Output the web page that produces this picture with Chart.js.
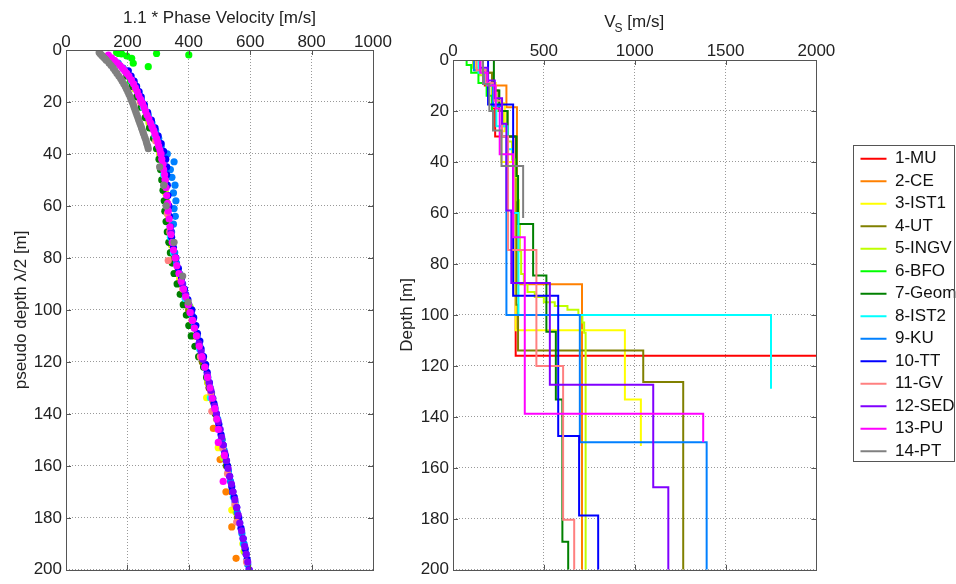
<!DOCTYPE html>
<html><head><meta charset="utf-8">
<script src="https://cdn.jsdelivr.net/npm/chart.js@4.4.1/dist/chart.umd.min.js"></script>
<style>
html,body{margin:0;padding:0;background:#fff;width:956px;height:584px;overflow:hidden}
#c1{position:absolute;left:0;top:0}
#c2{position:absolute;left:380px;top:0}
</style></head><body>
<canvas id="c1" width="400" height="584"></canvas>
<canvas id="c2" width="576" height="584"></canvas>
<script>
// ---------- series ----------
const seriesNames = ['1-MU','2-CE','3-IST1','4-UT','5-INGV','6-BFO','7-Geom','8-IST2','9-KU','10-TT','11-GV','12-SED','13-PU','14-PT'];
const seriesColors = ['#ff0000','#ff8000','#ffff00','#808000','#bfff00','#00ff00','#008000','#00ffff','#0080ff','#0000ff','#ff8080','#8000ff','#ff00ff','#808080'];

// ---------- tick labels ----------
const phaseTicks = [0,200,400,600,800,1000];
const vsTicks = [0,500,1000,1500,2000];
const depthTicks = [0,20,40,60,80,100,120,140,160,180,200];

// ---------- left panel: pseudo depth [m] / 1.1*phase velocity [m/s] ----------
const pdMU = [25,50,90,130,170];
const pvMU = [262,320,376,466,540];
const pdCE = [30,45,60,70,75,85,100,110,120,128,135,145.6,157.6,170,183.5,195.6];
const pvCE = [283,316,328,336,344,365,400,422,446,462,478,480,502,521,540,554];
const pdIST1 = [12,25,45,65,88,105,133.8,153,177,190];
const pvIST1 = [214,262,314,334,370,413,458,496,540,576];
const pdUT = [18,38,58,80,100,120,140,160,180];
const pvUT = [236,300,326,352,400,444,486,522,558];
const pdINGV = [15,28,40,55,75,98.7,110,118.5,128,142,156.8,178,193];
const pvINGV = [224,270,305,324,344,404,420,447,462,490,512,554,580];
const pdBFO = [1.0,1.3,1.5,2.3,3.2,5.1,6.4,1.3,1.9,12,30];
const pvBFO = [165,172,181,198,214,219,268,295,400,210,276];
const pdGeom = [10,14,18,22,26,30,34,38,42,46,50,54,58,62,66,70,74,78,82,86,90,94,98,102,106,110,114,118,122,126,130,140,150,160,170,180];
const pvGeom = [198,215,230,245,258,272,285,295,303,308,312,316,320,322,326,330,335,340,346,352,362,372,382,392,400,408,420,432,448,458,467,488,508,525,543,562];
const pdIST2 = [12,22,33,48,72,78,95.6,115,133.8,150,172,190];
const pvIST2 = [215,252,290,318,340,350,388,435,470,505,545,578];
const pdKU = [5,7,9,11,13,15,17,19,22,25,28,31,34,37,40,43,46,49,52,55,58,61,64,67,70,74,78,82,86,90,94,98,102,106,110,114,118,122,126,130,134,138,142,146,150,154,158,162,166,170,174,178,182,186,190,194,198];
const pvKU = [170,186,200,212,222,230,238,245,256,268,280,292,302,310,330,352,340,345,355,350,358,352,356,350,344,348,354,360,370,380,390,400,410,418,427,436,445,453,462,470,478,486,494,501,508,515,522,529,536,543,551,558,566,573,580,587,592];
const pdTT = [8,10,12,14,16,18,21,24,27,30,33,36,39,42,45,48,52,56,60,64,68,72,76,80,84,88,92,96,100,103,106,109,112,115,118,121,124,128,132,136,140,144,148,152,156,160,164,168,172,176,180,184,188,192,196,200];
const pvTT = [203,212,222,230,238,245,255,266,278,290,300,310,318,325,328,328,330,332,335,337,340,344,350,358,366,376,386,397,410,416,423,428,436,440,448,455,460,467,474,482,490,498,505,512,519,526,533,540,548,556,563,570,577,584,590,596];
const pdGV = [20,35,52,63,70,81,92,104,118,132,139,153,163,175,181.6,197];
const pvGV = [242,292,320,330,338,333,380,410,438,472,475,510,526,550,556,588];
const pdSED = [20,30,40,50,60,70,80,90,94,98,101,104,107,110,113,116,119,122,125,128,131,134,137,140,143,146,149,152,155,158,161,164,167,170,173,176,179,182,185,188,191,194,197,200];
const pvSED = [247,283,310,323,332,342,357,379,389,399,407,413,419,426,433,440,446,453,460,466,472,478,484,490,496,502,507,512,517,523,528,533,539,544,550,556,561,566,572,577,582,587,592,597];
const pdPU = [2,3,4,5,6,7,8,9,10,11.5,13,14.5,16,17.5,19,20.5,22,23.5,25,26.5,28,29.5,31,32.5,34,35.5,37,38.5,40,42,44,46,48,50,53,56,59,62,65,68,71,74,77,80,83,86,89,92,95,98,101,104,107,110,114,118,122,126,130,134,138,142,146,151,156,166];
const pvPU = [138,148,158,167,176,184,191,198,205,213,220,226,232,237,243,249,254,259,264,270,275,280,286,290,295,299,302,306,309,312,316,318,321,323,326,328,331,333,336,339,342,346,350,356,361,368,375,383,390,398,404,412,418,425,434,443,452,461,469,476,485,491,496,496,516,512];
const pdPT = [1,1.5,2,2.5,3,3.5,4,5,6,7,8,9,10,11,12,13,14,15,16,17,18,19,20,21,22,23,24,25,26,27,28,29,30,31,32,33,34,35,36,37,38,45,52,60,74,87,97];
const pvPT = [108,112,116,120,124,128,132,140,147,154,160,166,172,178,183,188,193,197,201,205,209,212,216,219,222,225,228,231,234,237,240,243,246,249,252,255,258,261,263,266,268,305,318,326,352,380,398];

// ---------- right panel: layer bottom depth [m] / Vs [m/s] ----------
const hMU = [4,10,19,30,116,200];
const vMU = [120,175,215,232,345,2600];
const hCE = [5,10,18.5,88,200];
const vCE = [150,215,294,352,710];
const hIST1 = [4,9,17,28,40,106,133.2,151.4];
const vIST1 = [125,180,235,285,266,345,946,1034];
const hUT = [5,12,20,30,96,114,126.3,200];
const vUT = [165,215,250,300,349,358,1047,1267];
const hINGV = [3,6,10,15,20,26,32,39,46,55,65,75,84,88,91,93,95,96.5,98,100,103,107,200];
const vINGV = [110,150,185,215,245,275,300,325,345,355,362,368,375,390,410,450,500,560,630,690,712,722,730];
const hBFO = [2,5,9,14,20];
const vBFO = [75,100,140,185,215];
const hGeom = [12,20,30,45.5,64.3,84.5,106.6,133.2,189,200];
const vGeom = [225,255,300,349,358,441,514,566,602,634];
const hIST2 = [5,10,16,26,35,60,100,129];
const vIST2 = [140,190,225,239,300,330,360,1750];
const hKU = [4,9,18,30,100,150,200];
const vKU = [115,170,220,270,294,698,1396];
const hTT = [17.5,92.5,147.5,178.7,200];
const vTT = [193,331,579,694,799];
const hGV = [4,9,16,30,74.5,120,180.4,200];
const vGV = [130,180,228,270,303,459,606,667];
const hSED = [3,8,15,25,59,87.5,127.4,167.6,200];
const vSED = [150,190,230,270,294,321,533,1102,1185];
const hPU = [5,10,19,37,69.5,138.8,150];
const vPU = [150,190,235,257,331,395,1377];
const hPT = [9.4,20,27.7,41.6,62];
const vPT = [165,200,220,267,386];

const phaseDepth = [pdMU,pdCE,pdIST1,pdUT,pdINGV,pdBFO,pdGeom,pdIST2,pdKU,pdTT,pdGV,pdSED,pdPU,pdPT];
const phaseVel   = [pvMU,pvCE,pvIST1,pvUT,pvINGV,pvBFO,pvGeom,pvIST2,pvKU,pvTT,pvGV,pvSED,pvPU,pvPT];
const layerBottom = [hMU,hCE,hIST1,hUT,hINGV,hBFO,hGeom,hIST2,hKU,hTT,hGV,hSED,hPU,hPT];
const layerVs     = [vMU,vCE,vIST1,vUT,vINGV,vBFO,vGeom,vIST2,vKU,vTT,vGV,vSED,vPU,vPT];

// ---------- styling ----------
const FONT = '"Liberation Sans", Arial, Helvetica, sans-serif';
const FS = 17;
Chart.defaults.font.family = FONT;
Chart.defaults.font.size = FS;
Chart.defaults.color = '#222';
const gridColor = '#999';
const boxColor = '#555';

function stepPoints(bottoms, vs) {
  const pts = []; let top = 0;
  for (let i = 0; i < vs.length; i++) {
    pts.push({x: vs[i], y: top});
    pts.push({x: vs[i], y: bottoms[i]});
    top = bottoms[i];
  }
  return pts;
}
function fixedTicks(arr) { return s => { s.ticks = arr.map(v => ({value: v})); }; }
const plainLabel = v => String(v);

const framePlugin = {
  id: 'frame',
  afterDatasetsDraw(chart) {
    const {ctx, chartArea: a, scales} = chart;
    const xs = scales.x, ys = scales.y;
    ctx.save();
    ctx.strokeStyle = boxColor; ctx.lineWidth = 1;
    ctx.beginPath();
    xs.ticks.forEach(t => { const p = Math.round(xs.getPixelForValue(t.value)) + 0.5;
      ctx.moveTo(p, a.top); ctx.lineTo(p, a.top + 5); ctx.moveTo(p, a.bottom); ctx.lineTo(p, a.bottom - 5); });
    ys.ticks.forEach(t => { const p = Math.round(ys.getPixelForValue(t.value)) + 0.5;
      ctx.moveTo(a.left, p); ctx.lineTo(a.left + 5, p); ctx.moveTo(a.right, p); ctx.lineTo(a.right - 5, p); });
    ctx.stroke();
    ctx.strokeRect(Math.round(a.left) + 0.5, Math.round(a.top) + 0.5, Math.round(a.right - a.left), Math.round(a.bottom - a.top));
    ctx.restore();
  }
};

function depthAxis(width, titleText, titlePad) {
  return {
    type: 'linear', reverse: true, min: 0, max: 200,
    afterBuildTicks: fixedTicks(depthTicks),
    afterFit: s => { s.width = width; },
    ticks: {padding: 4, color: '#222', callback: plainLabel},
    grid: {color: gridColor, drawTicks: false, lineWidth: 1},
    border: {display: false, dash: [1, 2]},
    title: {display: true, text: titleText, color: '#222', padding: {top: titlePad, bottom: 0}}
  };
}

// ---------- left chart ----------
const leftDatasets = [];
for (let i = seriesNames.length - 1; i >= 0; i--) {
  leftDatasets.push({
    label: seriesNames[i],
    data: phaseDepth[i].map((d, k) => ({x: phaseVel[i][k], y: d})),
    backgroundColor: seriesColors[i], borderColor: seriesColors[i],
    pointRadius: 3.6, pointBorderWidth: 0, showLine: false
  });
}
new Chart(document.getElementById('c1'), {
  type: 'scatter',
  data: {datasets: leftDatasets},
  options: {
    responsive: false, animation: false, devicePixelRatio: 1,
    layout: {padding: {left: 0, right: 27, top: 0, bottom: 11}},
    plugins: {legend: {display: false}, tooltip: {enabled: false}},
    scales: {
      x: {
        type: 'linear', position: 'top', min: 0, max: 1000,
        afterBuildTicks: fixedTicks(phaseTicks),
        afterFit: s => { s.height = 50; },
        ticks: {padding: -3, maxRotation: 0, color: '#222', callback: plainLabel},
        grid: {color: gridColor, drawTicks: false, lineWidth: 1},
        border: {display: false, dash: [1, 2]},
        title: {display: true, text: '1.1 * Phase Velocity [m/s]', color: '#222', padding: {top: 8, bottom: 0}}
      },
      y: depthAxis(66, 'pseudo depth λ/2 [m]', 11)
    }
  },
  plugins: [framePlugin]
});

// ---------- right chart ----------
const rightDatasets = [];
for (let i = seriesNames.length - 1; i >= 0; i--) {
  rightDatasets.push({
    label: seriesNames[i],
    data: stepPoints(layerBottom[i], layerVs[i]),
    borderColor: seriesColors[i], backgroundColor: seriesColors[i],
    borderWidth: 2, pointRadius: 0, showLine: true, fill: false, tension: 0, yAxisID: 'y'
  });
}
const legendBoxPlugin = {
  id: 'legendBox',
  afterDraw(chart) {
    const lg = chart.legend; if (!lg || !lg.legendHitBoxes.length) return;
    const hb = lg.legendHitBoxes;
    const tops = hb.map(h => h.top);
    const top = Math.min(...tops), bot = Math.max(...tops);
    const ctx = chart.ctx;
    ctx.save(); ctx.strokeStyle = boxColor; ctx.lineWidth = 1;
    const l = Math.round(lg.left) - 1.5, t = Math.round(top + FS / 2 - 14) + 0.5;
    const r = chart.width - 1.5, b = Math.round(bot + FS / 2 + 10) + 0.5;
    ctx.strokeRect(l, t, r - l, b - t);
    ctx.restore();
  }
};
const vsTitlePlugin = {
  id: 'vsTitle',
  afterDraw(chart) {
    const {ctx, chartArea: a} = chart;
    ctx.save(); ctx.fillStyle = '#222'; ctx.textBaseline = 'alphabetic'; ctx.textAlign = 'left';
    const big = FS + 'px ' + FONT, small = '12px ' + FONT;
    ctx.font = big; const wV = ctx.measureText('V').width; const wR = ctx.measureText(' [m/s]').width;
    ctx.font = small; const wS = ctx.measureText('S').width;
    let x = (a.left + a.right) / 2 - (wV + wS + wR) / 2; const base = 27;
    ctx.font = big; ctx.fillText('V', x, base); x += wV - 1;
    ctx.font = small; ctx.fillText('S', x, base + 5); x += wS;
    ctx.font = big; ctx.fillText(' [m/s]', x, base);
    ctx.restore();
  }
};
new Chart(document.getElementById('c2'), {
  type: 'scatter',
  data: {datasets: rightDatasets},
  options: {
    responsive: false, animation: false, devicePixelRatio: 1,
    layout: {padding: {left: 0, right: 0, top: 37, bottom: 11}},
    plugins: {
      tooltip: {enabled: false},
      legend: {
        display: true, position: 'right', align: 'center', reverse: true, maxWidth: 101,
        labels: {usePointStyle: true, pointStyle: 'line', pointStyleWidth: 26, boxHeight: FS,
                 padding: 5.5, color: '#111', font: {size: FS}}
      }
    },
    scales: {
      x: {
        type: 'linear', position: 'top', min: 0, max: 2000,
        afterBuildTicks: fixedTicks(vsTicks),
        afterFit: s => { s.height = 23; },
        ticks: {padding: -2, maxRotation: 0, color: '#222', callback: plainLabel},
        grid: {color: gridColor, drawTicks: false, lineWidth: 1},
        border: {display: false, dash: [1, 2]},
        title: {display: false}
      },
      y: depthAxis(73, 'Depth [m]', 17),
      yPad: {
        type: 'linear', position: 'right', display: true, min: 0, max: 1,
        grid: {display: false}, ticks: {display: false}, border: {display: false},
        afterFit: s => { s.width = 38.6; }
      }
    }
  },
  plugins: [framePlugin, legendBoxPlugin, vsTitlePlugin]
});
</script>
</body></html>
